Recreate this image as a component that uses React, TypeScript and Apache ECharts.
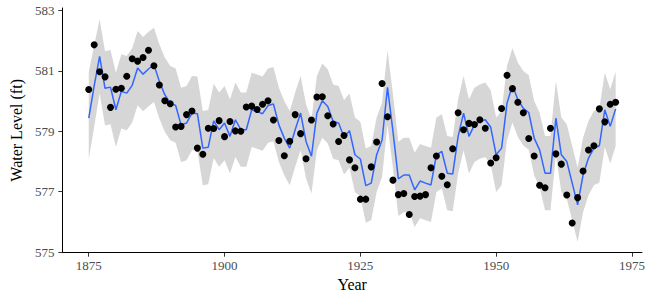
import React, { useEffect, useRef } from "react";
import * as echarts from "echarts";

const years = [
  1875, 1876, 1877, 1878, 1879, 1880, 1881, 1882, 1883, 1884, 1885, 1886, 1887, 1888, 1889,
  1890, 1891, 1892, 1893, 1894, 1895, 1896, 1897, 1898, 1899, 1900, 1901, 1902, 1903, 1904,
  1905, 1906, 1907, 1908, 1909, 1910, 1911, 1912, 1913, 1914, 1915, 1916, 1917, 1918, 1919,
  1920, 1921, 1922, 1923, 1924, 1925, 1926, 1927, 1928, 1929, 1930, 1931, 1932, 1933, 1934,
  1935, 1936, 1937, 1938, 1939, 1940, 1941, 1942, 1943, 1944, 1945, 1946, 1947, 1948, 1949,
  1950, 1951, 1952, 1953, 1954, 1955, 1956, 1957, 1958, 1959, 1960, 1961, 1962, 1963, 1964,
  1965, 1966, 1967, 1968, 1969, 1970, 1971, 1972,
];

// observed water level (ft)
const observed = [
  580.38, 581.86, 580.97, 580.8, 579.79, 580.39, 580.42, 580.82, 581.4, 581.32, 581.44, 581.68, 581.17, 580.53, 580.01,
  579.91, 579.14, 579.16, 579.55, 579.67, 578.44, 578.24, 579.1, 579.09, 579.35, 578.82, 579.32, 579.01, 579.0, 579.8,
  579.83, 579.72, 579.89, 580.01, 579.37, 578.69, 578.19, 578.67, 579.55, 578.92, 578.09, 579.37, 580.13, 580.14, 579.51,
  579.24, 578.66, 578.86, 578.05, 577.79, 576.75, 576.75, 577.82, 578.64, 580.58, 579.48, 577.38, 576.9, 576.94, 576.24,
  576.84, 576.85, 576.9, 577.79, 578.18, 577.51, 577.23, 578.42, 579.61, 579.05, 579.26, 579.22, 579.38, 579.1, 577.95,
  578.12, 579.75, 580.85, 580.41, 579.96, 579.61, 578.76, 578.18, 577.21, 577.13, 579.1, 578.25, 577.91, 576.89, 575.96,
  576.8, 577.68, 578.38, 578.52, 579.74, 579.31, 579.89, 579.96,
];

// fitted (one-step) values, blue line
const fitted = [
  579.43, 580.5, 581.48, 580.42, 580.46, 579.71, 580.32, 580.26, 580.52, 581.09, 580.89, 581.06, 581.2, 580.65, 580.21,
  579.93, 579.85, 579.21, 579.27, 579.6, 579.58, 578.44, 578.47, 579.34, 579.05, 579.27, 578.83, 579.38, 579.05, 579.05,
  579.71, 579.65, 579.58, 579.85, 579.9, 579.21, 578.77, 578.44, 579.05, 579.6, 578.66, 578.17, 579.6, 580.01, 579.82,
  579.32, 579.27, 578.8, 579.02, 578.22, 578.08, 577.2, 577.28, 578.22, 578.71, 580.45, 579.0, 577.42, 577.55, 577.55,
  577.06, 577.35, 577.28, 577.22, 578.22, 578.33, 577.61, 577.58, 578.83, 579.6, 578.83, 579.21, 579.32, 579.38, 579.13,
  578.22, 578.44, 579.93, 580.52, 580.04, 579.76, 579.62, 578.77, 578.38, 577.61, 577.61, 579.43, 578.22, 578.0, 577.28,
  576.56, 577.55, 578.11, 578.44, 578.52, 579.71, 579.16, 579.74,
];

// interval upper bound
const upper = [
  580.96, 581.85, 582.71, 581.65, 581.69, 580.94, 581.55, 581.49, 581.75, 582.32, 582.12, 582.29, 582.43, 581.88, 581.44,
  581.16, 581.08, 580.44, 580.5, 580.83, 580.81, 579.67, 579.7, 580.57, 580.28, 580.5, 580.06, 580.61, 580.28, 580.28,
  580.94, 580.88, 580.81, 581.08, 581.13, 580.44, 580.0, 579.67, 580.28, 580.83, 579.89, 579.4, 580.83, 581.24, 581.05,
  580.55, 580.5, 580.03, 580.25, 579.45, 579.31, 578.43, 578.51, 579.45, 579.94, 581.68, 580.23, 578.65, 578.78, 578.78,
  578.29, 578.58, 578.51, 578.45, 579.45, 579.56, 578.84, 578.81, 580.06, 580.83, 580.06, 580.44, 580.55, 580.61, 580.36,
  579.45, 579.67, 581.16, 581.75, 581.27, 580.99, 580.85, 580.0, 579.61, 578.84, 578.84, 580.66, 579.45, 579.23, 578.51,
  577.79, 578.78, 579.34, 579.67, 579.75, 580.94, 580.39, 580.97,
];

// interval lower bound
const lower = [
  578.06, 579.15, 580.25, 579.19, 579.23, 578.48, 579.09, 579.03, 579.29, 579.86, 579.66, 579.83, 579.97, 579.42, 578.98,
  578.7, 578.62, 577.98, 578.04, 578.37, 578.35, 577.21, 577.24, 578.11, 577.82, 578.04, 577.6, 578.15, 577.82, 577.82,
  578.48, 578.42, 578.35, 578.62, 578.67, 577.98, 577.54, 577.21, 577.82, 578.37, 577.43, 576.94, 578.37, 578.78, 578.59,
  578.09, 578.04, 577.57, 577.79, 576.99, 576.85, 575.97, 576.05, 576.99, 577.48, 579.22, 577.77, 576.19, 576.32, 576.32,
  575.83, 576.12, 576.05, 575.99, 576.99, 577.1, 576.38, 576.35, 577.6, 578.37, 577.6, 577.98, 578.09, 578.15, 577.9,
  576.99, 577.21, 578.7, 579.29, 578.81, 578.53, 578.39, 577.54, 577.15, 576.38, 576.38, 578.2, 576.99, 576.77, 576.05,
  575.33, 576.32, 576.88, 577.21, 577.29, 578.48, 577.93, 578.51,
];

const xTicks = [1875, 1900, 1925, 1950, 1975];
const yTicks = [575, 577, 579, 581, 583];

const FONT = "'Liberation Serif', 'DejaVu Serif', serif";

export default function App() {
  const ref = useRef<HTMLDivElement>(null);

  useEffect(() => {
    if (!ref.current) return;
    const chart = echarts.init(ref.current, null, { renderer: "svg" });

    const bandData = years.map((y, i) => [y, lower[i], upper[i]]);
    const fitData = years.map((y, i) => [y, fitted[i]]);
    const obsData = years.map((y, i) => [y, observed[i]]);

    const axisLabelStyle = {
      color: "#4d4d4d",
      fontFamily: FONT,
      fontSize: 13,
    };

    chart.setOption({
      animation: false,
      backgroundColor: "#ffffff",
      grid: { left: 55, right: 8, top: 8, bottom: 47.3 },
      xAxis: {
        type: "value",
        min: 1870.15,
        max: 1976.85,
        name: "Year",
        nameLocation: "middle",
        nameGap: 21,
        nameTextStyle: { fontFamily: FONT, fontSize: 16, color: "#000000" },
        splitLine: { show: false },
        axisLine: { onZero: false, lineStyle: { color: "#000000", width: 1 } },
        axisTick: { customValues: xTicks, length: 4, lineStyle: { color: "#333333", width: 1 } },
        axisLabel: {
          ...axisLabelStyle,
          customValues: xTicks,
          margin: 6,
          formatter: (v: number) => String(v),
        },
      },
      yAxis: {
        type: "value",
        min: 574.977,
        max: 583.08,
        name: "Water Level (ft)",
        nameLocation: "middle",
        nameGap: 33,
        nameTextStyle: { fontFamily: FONT, fontSize: 16, color: "#000000" },
        splitLine: { show: false },
        axisLine: { show: true, onZero: false, lineStyle: { color: "#000000", width: 1 } },
        axisTick: { show: true, customValues: yTicks, length: 4, lineStyle: { color: "#333333", width: 1 } },
        axisLabel: {
          ...axisLabelStyle,
          customValues: yTicks,
          margin: 8,
          formatter: (v: number) => String(v),
        },
      },
      series: [
        {
          type: "custom",
          coordinateSystem: "cartesian2d",
          data: bandData,
          encode: { x: 0, y: [1, 2] },
          silent: true,
          z: 1,
          renderItem: (params: any, api: any) => {
            if (params.dataIndex !== 0) return null;
            const top = years.map((y, i) => api.coord([y, upper[i]]));
            const bottom = years.map((y, i) => api.coord([y, lower[i]])).reverse();
            return {
              type: "polygon",
              shape: { points: top.concat(bottom) },
              style: { fill: "#d6d6d6", stroke: "none" },
              silent: true,
            };
          },
        },
        {
          type: "line",
          data: fitData,
          symbol: "none",
          lineStyle: { color: "#3366FF", width: 1.5 },
          silent: true,
          z: 2,
        },
        {
          type: "scatter",
          data: obsData,
          symbol: "circle",
          symbolSize: 7,
          itemStyle: { color: "#000000", opacity: 1 },
          silent: true,
          z: 3,
        },
      ],
    });

    return () => chart.dispose();
  }, []);

  return (
    <div
      ref={ref}
      style={{ position: "fixed", left: 0, top: 0, width: 650, height: 300, background: "#fff" }}
    />
  );
}
